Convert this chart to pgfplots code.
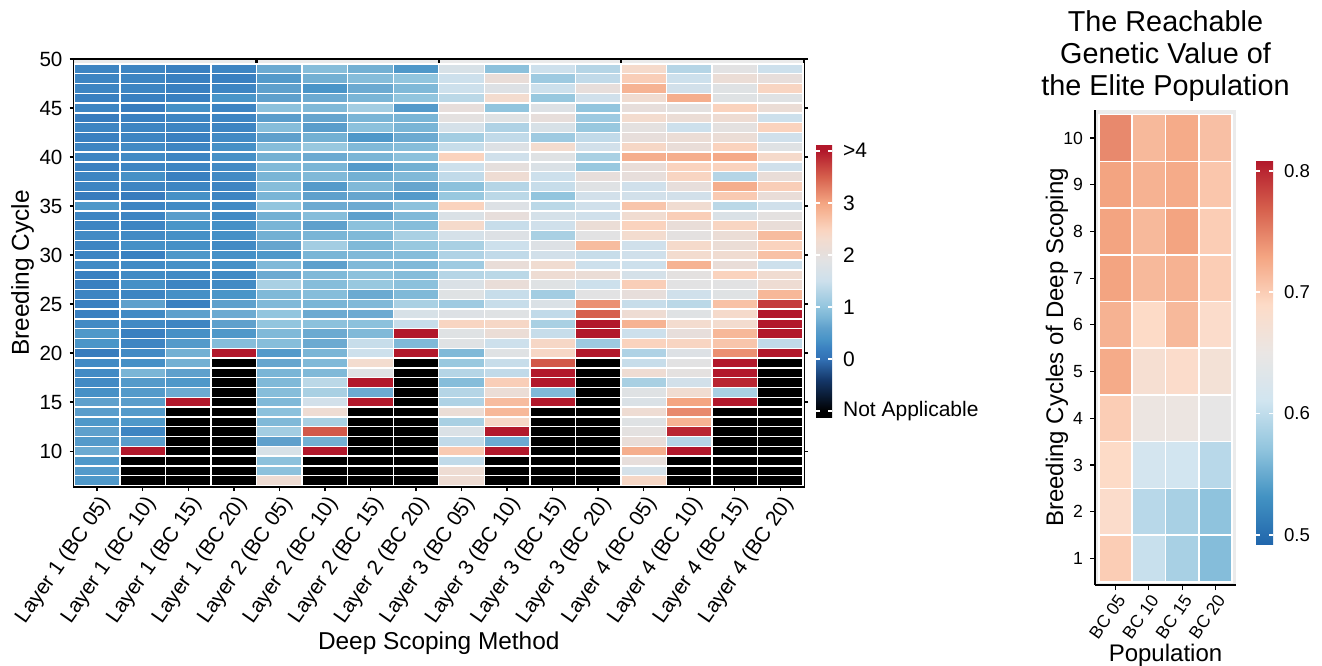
\documentclass[border=0pt]{standalone}
\usepackage{fontspec}
\setmainfont{Liberation Sans}
\usepackage{pgfplots}
\usepackage{pgfplotstable}
\pgfplotsset{compat=1.18}
\pgfplotsset{/pgf/number format/assume math mode=true}

\pgfdeclareplotmark{cellL}{\pgfpathrectangle{\pgfpoint{-11.385pt}{-2.451pt}}{\pgfpoint{22.77pt}{4.903pt}}\pgfusepathqfillstroke}
\pgfdeclareplotmark{cellR}{\pgfpathrectangle{\pgfpoint{-8.313pt}{-11.676pt}}{\pgfpoint{16.627pt}{23.353pt}}\pgfusepathqfillstroke}

\pgfplotstableread{
cyc c1 c2 c3 c4 c5 c6 c7 c8 c9 c10 c11 c12 c13 c14 c15 c16
49 0.25 0.25 0.2 0.25 0.7 0.9 0.75 0.45 1.7 0.95 1.5 1.3 2.35 1.3 1.9 1.5
48 0.25 0.25 0.2 0.2 0.5 0.75 0.9 1.0 1.5 2.1 1.1 1.4 2.55 1.5 2.15 2.05
47 0.25 0.25 0.2 0.25 0.6 0.4 0.7 0.85 1.5 1.8 1.5 2.05 2.85 1.6 1.85 2.45
46 0.2 0.2 0.2 0.4 0.6 0.7 0.8 1.0 1.35 2.3 1.05 1.55 2.25 2.9 1.85 1.85
45 0.25 0.15 0.35 0.25 0.95 0.85 1.15 0.5 2.05 1.0 1.8 1.0 2.05 1.95 2.5 2.15
44 0.15 0.2 0.25 0.25 0.55 0.65 0.8 0.8 1.95 1.85 2.05 1.1 2.3 2.15 2.2 1.5
43 0.25 0.25 0.25 0.25 0.9 0.55 0.95 0.8 1.65 1.25 1.7 1.05 1.95 1.5 1.95 2.5
42 0.2 0.25 0.2 0.3 0.6 0.75 0.45 0.7 1.15 1.4 1.1 1.4 2.05 2.15 2.15 1.55
41 0.25 0.3 0.25 0.35 0.9 1.05 0.85 0.9 1.45 1.8 2.3 1.6 2.4 2.1 2.5 1.85
40 0.25 0.3 0.25 0.35 0.75 0.7 0.8 0.95 2.5 1.55 1.85 1.2 2.9 2.9 2.95 2.35
39 0.2 0.25 0.25 0.3 0.85 0.8 0.5 0.75 1.5 2.0 1.75 1.05 2.1 2.5 2.5 1.55
38 0.25 0.35 0.2 0.3 0.8 0.85 0.75 0.85 1.4 2.2 1.5 2.05 2.05 2.45 1.3 2.1
37 0.25 0.25 0.25 0.25 0.9 0.5 0.85 0.65 0.95 1.3 1.45 1.85 1.55 2.05 2.9 2.55
36 0.15 0.15 0.35 0.25 0.8 0.6 0.65 0.5 1.05 1.35 1.0 1.6 1.6 1.6 2.6 2.1
35 0.45 0.25 0.3 0.3 1.0 0.7 0.7 0.95 2.5 1.8 1.35 1.55 2.65 2.25 1.35 1.55
34 0.25 0.25 0.55 0.3 0.75 0.9 0.6 0.85 1.75 2.05 1.65 1.55 2.25 2.55 1.75 1.95
33 0.25 0.25 0.4 0.35 0.8 0.6 0.95 0.9 2.35 1.45 1.55 2.15 2.5 2.1 2.45 2.1
32 0.3 0.3 0.35 0.35 0.75 0.8 0.85 1.2 1.65 1.8 1.2 1.9 2.3 1.95 2.15 2.75
31 0.25 0.35 0.35 0.3 0.65 1.15 0.85 1.05 1.2 1.5 1.8 2.75 1.55 2.35 2.15 2.5
30 0.25 0.2 0.45 0.35 0.45 0.8 0.85 0.9 1.25 1.4 1.6 1.45 1.55 2.3 2.25 2.7
29 0.3 0.3 0.35 0.35 0.85 0.6 0.85 0.85 1.1 2.1 2.25 1.5 1.5 2.85 2.1 1.5
28 0.2 0.3 0.3 0.3 0.7 0.85 0.95 0.9 1.3 1.35 2.2 2.15 1.65 1.95 2.5 2.25
27 0.2 0.35 0.25 0.3 1.2 0.9 1.05 0.95 1.75 2.1 1.85 1.5 2.55 1.9 1.9 2.2
26 0.25 0.25 0.35 0.4 0.85 0.9 0.7 0.85 1.85 1.45 1.15 1.9 2.05 1.55 1.85 2.8
25 0.2 0.6 0.2 0.6 0.85 0.8 0.85 1.2 1.1 1.45 1.75 3.15 1.45 1.35 2.7 3.75
24 0.2 0.3 0.6 0.7 1.0 0.7 0.7 1.7 1.8 1.85 1.4 3.5 2.2 1.85 2.35 4
23 0.3 0.3 0.25 0.6 1.0 0.95 0.95 1.45 2.45 2.4 1.2 4 2.85 2.3 2.3 4
22 0.45 0.2 0.35 0.45 0.85 0.7 0.85 4 1.85 2.15 1.45 4 1.5 2.05 2.8 4
21 0.4 0.25 0.5 0.9 0.9 0.7 1.45 0.85 1.85 1.5 2.4 1.1 2.5 2.45 2.65 1.4
20 0.15 0.3 0.75 4 0.5 0.8 1.5 4 0.85 1.85 2.4 4 1.25 1.8 3.15 4
19 0.3 0.35 0.75 -1 0.65 0.85 2.3 -1 1.05 1.45 3.55 -1 1.45 1.9 4 -1
18 0.3 0.8 0.6 -1 0.8 0.85 1.85 -1 1.3 1.4 4 -1 2.2 1.95 4 -1
17 0.3 0.5 0.45 -1 0.85 1.35 4 -1 0.9 2.55 4 -1 1.2 1.6 3.9 -1
16 0.35 0.5 0.7 -1 0.9 1.2 0.7 -1 1.3 2.15 0.85 -1 1.85 2.25 1.2 -1
15 0.6 0.55 4 -1 0.85 1.6 4 -1 1.25 2.75 4 -1 1.75 3.0 4 -1
14 0.55 0.5 -1 -1 0.95 2.2 -1 -1 2.15 2.8 -1 -1 2.2 3.2 -1 -1
13 0.45 0.45 -1 -1 0.85 1.2 -1 -1 1.2 2.4 -1 -1 1.85 2.85 -1 -1
12 0.6 0.25 -1 -1 1.15 3.55 -1 -1 1.75 4 -1 -1 1.95 3.9 -1 -1
11 0.5 0.55 -1 -1 0.6 0.75 -1 -1 1.4 0.7 -1 -1 2.1 1.3 -1 -1
10 0.7 4 -1 -1 1.7 4 -1 -1 2.6 4 -1 -1 2.9 4 -1 -1
9 0.45 -1 -1 -1 0.95 -1 -1 -1 1.4 -1 -1 -1 2.05 -1 -1 -1
8 0.5 -1 -1 -1 0.95 -1 -1 -1 2.2 -1 -1 -1 1.65 -1 -1 -1
7 0.45 -1 -1 -1 2.2 -1 -1 -1 2.2 -1 -1 -1 2.4 -1 -1 -1
}\dataL

\pgfplotstableread{
cyc b1 b2 b3 b4
10 0.745 0.715 0.725 0.71
9 0.73 0.72 0.725 0.705
8 0.73 0.715 0.73 0.70
7 0.73 0.715 0.72 0.70
6 0.72 0.69 0.715 0.685
5 0.725 0.675 0.685 0.67
4 0.70 0.655 0.655 0.645
3 0.69 0.615 0.612 0.595
2 0.685 0.595 0.585 0.57
1 0.70 0.605 0.585 0.565
}\dataR

\pgfplotsset{
  colormap={leftmap}{
    rgb255(0pt)=(0,0,0) rgb255(13pt)=(0,0,0) rgb255(73pt)=(20,55,105)
    rgb255(113pt)=(50,112,180) rgb255(133pt)=(58,128,192) rgb255(153pt)=(74,149,200)
    rgb255(173pt)=(95,160,204) rgb255(193pt)=(122,181,214) rgb255(213pt)=(146,197,222)
    rgb255(243pt)=(181,213,230) rgb255(263pt)=(205,224,236) rgb255(303pt)=(226,226,227)
    rgb255(323pt)=(233,221,216) rgb255(343pt)=(243,220,207) rgb255(363pt)=(250,211,190)
    rgb255(393pt)=(247,184,153) rgb255(413pt)=(244,165,130) rgb255(463pt)=(214,96,77)
    rgb255(513pt)=(178,24,43) rgb255(526pt)=(178,24,43)
  },
  colormap={rightmap}{
    rgb255(0cm)=(33,102,172) rgb255(1cm)=(67,147,195) rgb255(2cm)=(146,197,222)
    rgb255(3cm)=(209,229,240) rgb255(4cm)=(234,230,228) rgb255(5cm)=(253,219,199)
    rgb255(6cm)=(244,165,130) rgb255(7cm)=(214,96,77) rgb255(8cm)=(178,24,43)
  },
}

\begin{document}
\begin{tikzpicture}
\path[use as bounding box] (0,0) rectangle (661pt,332.5pt);

\begin{axis}[
  at={(36.75pt,89pt)}, anchor=south west,
  scale only axis, width=365.25pt, height=214pt,
  xmin=0.48, xmax=16.52, ymin=6.35, ymax=50,
  axis background/.style={fill=black!8},
  xtick={1,...,16},
  xticklabels={Layer 1 (BC 05),Layer 1 (BC 10),Layer 1 (BC 15),Layer 1 (BC 20),
               Layer 2 (BC 05),Layer 2 (BC 10),Layer 2 (BC 15),Layer 2 (BC 20),
               Layer 3 (BC 05),Layer 3 (BC 10),Layer 3 (BC 15),Layer 3 (BC 20),
               Layer 4 (BC 05),Layer 4 (BC 10),Layer 4 (BC 15),Layer 4 (BC 20)},
  xticklabel style={rotate=55, anchor=north east, font=\fontsize{10.5}{12}\selectfont, inner sep=1pt},
  ytick={10,15,...,50},
  yticklabel style={font=\fontsize{10.3}{12}\selectfont},
  xtick pos=bottom, ytick pos=both, yticklabel pos=left,
  tick align=center, major tick length=4pt,
  tick style={black, line width=0.7pt},
  axis line style={black, line width=0.9pt},
  extra x ticks={4.5,8.5,12.5}, extra x tick labels={},
  extra x tick style={grid=major, major grid style={black, line width=1.1pt}, major tick length=0pt},
  axis on top,
  xlabel={Deep Scoping Method}, ylabel={Breeding Cycle},
  xlabel style={at={(axis description cs:0.5,0)}, anchor=center, yshift=-78pt, font=\fontsize{12.2}{14}\selectfont},
  ylabel style={at={(axis description cs:-0.0698,0.5)}, anchor=center, font=\fontsize{12.2}{14}\selectfont},
  colormap name=leftmap,
  point meta min=-1.13, point meta max=4.13,
  colorbar,
  colorbar style={
    at={(parent axis.north east)}, anchor=north west,
    xshift=-2.5pt, yshift=-42.5pt,
    scale only axis, width=8pt, height=137pt,
    ytick={-1,0,1,2,3,4},
    yticklabels={Not Applicable,0,1,2,3,{>4}},
    yticklabel pos=right, ytick pos=both,
    yticklabel style={font=\fontsize{10.5}{12}\selectfont, xshift=2pt},
    tick align=inside, major tick length=2.2pt,
    ytick style={white, line width=0.8pt},
    axis line style={draw=none},
  },
]
\pgfplotsinvokeforeach{1,...,16}{
  \addplot[scatter, only marks, mark=cellL, point meta=explicit,
    scatter/use mapped color={draw=white, fill=mapped color},
    mark options={line width=0.7pt}]
    table[x expr=#1, y=cyc, meta=c#1] {\dataL};
}
\end{axis}

\begin{axis}[
  at={(547.5pt,40pt)}, anchor=south west,
  scale only axis, width=70.5pt, height=237.5pt,
  xmin=0.38, xmax=4.62, ymin=0.43, ymax=10.6,
  axis background/.style={fill=black!8},
  axis x line*=bottom, axis y line*=left,
  axis line style={black, line width=0.9pt},
  xtick={1,2,3,4}, xticklabels={BC 05,BC 10,BC 15,BC 20},
  xticklabel style={rotate=55, anchor=north east, font=\fontsize{8.8}{10}\selectfont, inner sep=1pt},
  ytick={1,...,10},
  yticklabel style={font=\fontsize{8.8}{10}\selectfont},
  tick align=outside, major tick length=2.5pt,
  tick style={black, line width=0.6pt},
  title={The Reachable\\Genetic Value of\\the Elite Population},
  title style={at={(axis description cs:0.5,1)}, anchor=center, yshift=21pt, align=center, font=\fontsize{14.4}{16}\selectfont},
  xlabel={Population}, ylabel={Breeding Cycles of Deep Scoping},
  xlabel style={at={(axis description cs:0.5,0)}, anchor=center, yshift=-35pt, font=\fontsize{12}{14}\selectfont},
  ylabel style={at={(axis description cs:-0.2695,0.5)}, anchor=center, font=\fontsize{12}{14}\selectfont},
  colormap name=rightmap,
  point meta min=0.4926, point meta max=0.808,
  colorbar,
  colorbar style={
    at={(parent axis.north east)}, anchor=north west,
    xshift=1.5pt, yshift=-25.5pt,
    scale only axis, width=8.5pt, height=191.5pt,
    ytick={0.5,0.6,0.7,0.8},
    yticklabel pos=right, ytick pos=both,
    yticklabel style={font=\fontsize{9.3}{11}\selectfont, xshift=2pt, /pgf/number format/fixed, /pgf/number format/precision=1},
    tick align=inside, major tick length=2.2pt,
    ytick style={white, line width=0.8pt},
    axis line style={draw=none},
  },
]
\pgfplotsinvokeforeach{1,...,4}{
  \addplot[scatter, only marks, mark=cellR, point meta=explicit,
    scatter/use mapped color={draw=white, fill=mapped color},
    mark options={line width=0.8pt}]
    table[x expr=#1, y=cyc, meta=b#1] {\dataR};
}
\end{axis}
\end{tikzpicture}
\end{document}
